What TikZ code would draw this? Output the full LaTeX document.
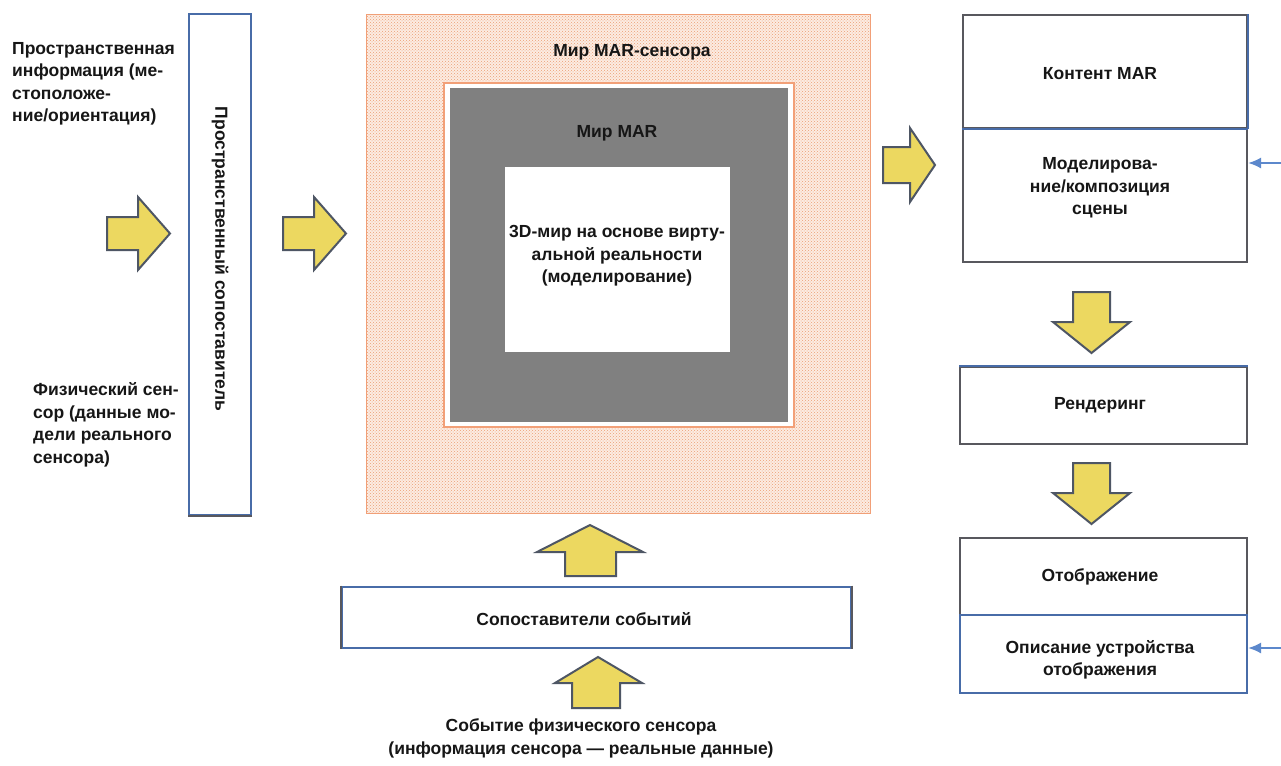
\documentclass[tikz,border=0pt]{standalone}
\usepackage{fontspec}
\setmainfont{Liberation Sans}
\usetikzlibrary{patterns,arrows.meta}

\definecolor{ink}{RGB}{22,22,22}
\definecolor{edgegray}{RGB}{88,88,94}
\definecolor{edgeblue}{RGB}{72,108,168}
\definecolor{arrowfill}{RGB}{236,216,96}
\definecolor{arrowline}{RGB}{78,86,100}
\definecolor{feedblue}{RGB}{92,136,204}
\definecolor{peachbg}{RGB}{252,236,226}
\definecolor{peachdot}{RGB}{236,158,116}
\definecolor{peachline}{RGB}{242,160,120}
\definecolor{worldgray}{RGB}{128,128,128}

\begin{document}
\begin{tikzpicture}[x=1pt,y=-1pt,
  txt/.style={font=\fontsize{17.5}{22.5}\selectfont\bfseries, text=ink, align=center, inner sep=0pt},
  box/.style={draw=edgegray, line width=2pt, fill=white, inner sep=0pt},
  blockarrow/.style={fill=arrowfill, draw=arrowline, line width=2pt, line join=miter},
  feed/.style={draw=feedblue, line width=2pt, -{Latex[length=13pt,width=11pt]}}
]
\useasboundingbox (0,0) rectangle (1281,765);
\fill[white] (0,0) rectangle (1281,765);

% ---- left column: inputs and spatial mapper ----
\node[txt, align=left, anchor=west] (spinfo) at (12,84)
  {Пространственная\\информация (ме-\\стоположе-\\ние/ориентация)};
\node[txt, align=left, anchor=west] (physsensor) at (33,425)
  {Физический сен-\\сор (данные мо-\\дели реального\\сенсора)};

\node[box, draw=edgeblue, minimum width=62pt, minimum height=501pt] (spmatch) at (220,264.5) {};
\draw[edgegray, line width=2pt] (spmatch.south west) -- (spmatch.south east);
\node[txt, rotate=-90] (spmatchlabel) at (220,259) {Пространственный сопоставитель};

\draw[blockarrow] (107,217) -- (138,217) -- (138,197) -- (170,233.5) -- (138,270) -- (138,250) -- (107,250) -- cycle;
\draw[blockarrow] (283,217) -- (314,217) -- (314,197) -- (346,233.5) -- (314,270) -- (314,250) -- (283,250) -- cycle;

% ---- MAR sensor world ----
\node[draw=peachline, line width=1pt, fill=peachbg, inner sep=0pt,
      minimum width=504pt, minimum height=498pt,
      postaction={pattern=crosshatch dots, pattern color=peachdot}] (sensorworld) at (618,264) {};
\node[txt] (sensortitle) at (632,52) {Мир MAR-сенсора};
\node[draw=peachline, line width=1.5pt, fill=white, inner sep=0pt,
      minimum width=350pt, minimum height=344pt] (frame) at (619,255) {};
\node[fill=worldgray, inner sep=0pt, minimum width=338pt, minimum height=334pt] (marworld) at (619,255) {};
\node[txt] (martitle) at (617,133) {Мир MAR};
\node[fill=white, inner sep=0pt, minimum width=225pt, minimum height=185pt] (vrworld) at (617.5,259.5) {};
\node[txt] (vrlabel) at (617,256) {3D-мир на основе вирту-\\альной реальности\\(моделирование)};

% ---- event mappers ----
\draw[blockarrow] (565,576) -- (616,576) -- (616,552) -- (643,552) -- (590,525) -- (537,552) -- (565,552) -- cycle;
\node[box, draw=edgeblue, minimum width=509pt, minimum height=61pt] (evmatch) at (596.5,617) {};
\draw[edgegray, line width=2pt] (evmatch.north west) -- (evmatch.south west);
\draw[edgegray, line width=2pt] (evmatch.north east) -- (evmatch.south east);
\node[txt] (evlabel) at (584,619) {Сопоставители событий};
\draw[blockarrow] (572,708) -- (620,708) -- (620,683) -- (642,683) -- (598,657) -- (555,683) -- (572,683) -- cycle;
\node[txt] (physevent) at (581,738.5) {Событие физического сенсора\\(информация сенсора — реальные данные)};

% ---- right column: content, rendering, display ----
\draw[blockarrow] (883,147) -- (910,147) -- (910,128) -- (935,165) -- (910,202) -- (910,183) -- (883,183) -- cycle;

\node[box, minimum width=284pt, minimum height=113pt] (content) at (1105,71.5) {};
\node[txt] (contentlabel) at (1100,74) {Контент MAR};
\node[box, minimum width=284pt, minimum height=134pt] (scene) at (1105,195) {};
\node[txt] (scenelabel) at (1100,188) {Моделирова-\\ние/композиция\\сцены};
\draw[edgeblue, line width=2pt] (content.south west) -- (content.south east);
\draw[edgeblue, line width=2pt] (content.north east) -- (content.south east);

\draw[blockarrow] (1073,292) -- (1110,292) -- (1110,322) -- (1130,322) -- (1091.5,353) -- (1053,322) -- (1073,322) -- cycle;

\node[box, minimum width=287pt, minimum height=77pt] (render) at (1103.5,405.5) {};
\draw[edgeblue, line width=2pt] (render.north west) -- (render.north east);
\node[txt] (renderlabel) at (1100,405) {Рендеринг};

\draw[blockarrow] (1073,463) -- (1110,463) -- (1110,493) -- (1130,493) -- (1091.5,524) -- (1053,493) -- (1073,493) -- cycle;

\node[box, minimum width=287pt, minimum height=77pt] (display) at (1103.5,576.5) {};
\node[txt] (displaylabel) at (1100,577) {Отображение};
\node[box, draw=edgeblue, minimum width=287pt, minimum height=78pt] (devdesc) at (1103.5,654) {};
\node[txt] (devdesclabel) at (1100,660) {Описание устройства\\отображения};

% ---- incoming feeds from the right ----
\coordinate (feedA) at (1281,163);
\coordinate (feedB) at (1281,648);
\draw[feed] (feedA) -- (feedA -| scene.east);
\draw[feed] (feedB) -- (feedB -| devdesc.east);
\end{tikzpicture}
\end{document}
